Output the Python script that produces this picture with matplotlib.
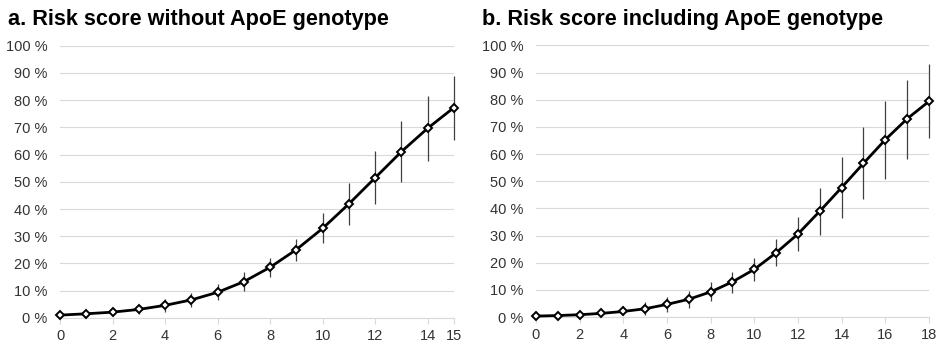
import matplotlib.pyplot as plt
from matplotlib.ticker import FuncFormatter

plt.rcParams['font.family'] = ['Liberation Sans', 'DejaVu Sans']

# panel a: risk score without ApoE genotype (risk in %)
score_a = list(range(16))
risk_a = [1.0, 1.5, 2.1, 3.1, 4.6, 6.6, 9.4, 13.3, 18.6, 25.1, 32.9, 41.9, 51.5, 61.1, 69.7, 77.3]
low_a = [0.6, 0.9, 1.2, 1.3, 2.2, 4.0, 6.4, 10.0, 14.9, 20.8, 27.4, 34.2, 41.8, 49.8, 57.8, 65.5]
high_a = [1.5, 2.2, 3.1, 4.9, 6.8, 9.2, 12.5, 16.7, 22.0, 29.1, 38.5, 49.6, 61.4, 72.2, 81.7, 88.8]
xticks_a = [0, 2, 4, 6, 8, 10, 12, 14, 15]

# panel b: risk score including ApoE genotype
score_b = list(range(19))
risk_b = [0.4, 0.6, 0.9, 1.4, 2.1, 3.1, 4.7, 6.6, 9.3, 13.0, 17.6, 23.7, 30.6, 39.0, 47.7, 56.6, 65.3, 73.0, 79.4]
low_b = [0.2, 0.3, 0.4, 0.5, 0.9, 0.9, 2.0, 3.4, 5.9, 8.9, 13.4, 18.8, 24.3, 30.1, 36.5, 43.5, 50.9, 58.3, 65.8]
high_b = [0.7, 1.0, 1.5, 2.5, 4.2, 5.6, 7.5, 9.7, 12.9, 16.7, 21.8, 28.6, 37.0, 47.4, 58.8, 69.9, 79.5, 87.3, 93.1]
xticks_b = [0, 2, 4, 6, 8, 10, 12, 14, 16, 18]

titles = ['a. Risk score without ApoE genotype', 'b. Risk score including ApoE genotype']

fig = plt.figure(figsize=(9.39, 3.44), dpi=100)
ax_a = fig.add_axes([0.0639, 0.076, 0.4196, 0.791])
ax_b = fig.add_axes([0.5708, 0.078, 0.4185, 0.790])

panels = [
    (ax_a, score_a, risk_a, low_a, high_a, xticks_a),
    (ax_b, score_b, risk_b, low_b, high_b, xticks_b),
]

for ax, x, y, lo, hi, xt in panels:
    yerr = [[v - l for v, l in zip(y, lo)], [h - v for v, h in zip(y, hi)]]
    ax.errorbar(x, y, yerr=yerr, fmt='none', ecolor='#404040', elinewidth=0.9,
                capsize=0, zorder=2, clip_on=False)
    ax.plot(x, y, color='black', lw=2, marker='D', markersize=4.5,
            markerfacecolor='white', markeredgecolor='black', markeredgewidth=1.4,
            zorder=3, clip_on=False)
    ax.set_xlim(0, x[-1])
    ax.set_ylim(0, 100)
    ax.set_yticks(range(0, 101, 10))
    ax.yaxis.set_major_formatter(FuncFormatter(lambda v, p: f'{v:.0f} %'))
    ax.set_xticks(xt)
    ax.grid(axis='y', color='#d9d9d9', lw=0.8)
    ax.set_axisbelow(True)
    for s in ['top', 'right', 'left']:
        ax.spines[s].set_visible(False)
    ax.spines['bottom'].set_color('#d9d9d9')
    ax.tick_params(axis='y', length=0, pad=9, labelsize=10.5, labelcolor='#333333')
    ax.tick_params(axis='x', length=4, color='#d9d9d9', pad=4, labelsize=10.5,
                   labelcolor='#333333')

fig.text(8 / 939, 1 - 20 / 344, titles[0], fontsize=15.6, fontweight='bold', va='center')
fig.text(482 / 939, 1 - 20 / 344, titles[1], fontsize=15.6, fontweight='bold', va='center')

fig.savefig('out.png', dpi=100)
